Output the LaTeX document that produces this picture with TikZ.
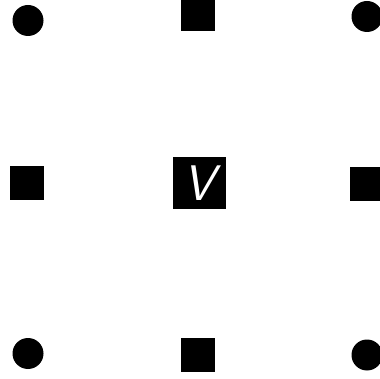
\documentclass[tikz,border=0pt]{standalone}
\begin{document}
\begin{tikzpicture}[x=1pt,y=-1pt,
  dot/.style={circle,fill=black,inner sep=0pt,minimum size=31pt},
  sq/.style={rectangle,fill=black,inner sep=0pt,minimum size=34pt},
  vbox/.style={rectangle,fill=black,inner sep=0pt,minimum width=53pt,minimum height=52pt,text=white,font=\fontsize{50}{50}\selectfont\sffamily\itshape}]
\useasboundingbox (0,0) rectangle (380,379);
\node[dot] (tl) at (28,20.5) {};
\node[dot] (tr) at (367,16.5) {};
\node[dot] (bl) at (28,353.5) {};
\node[dot] (br) at (367,355) {};
\node[sq] (t) at (197.5,14.5) {};
\node[sq] (l) at (27,183.5) {};
\node[sq] (r) at (367,184) {};
\node[sq] (b) at (197.5,354.5) {};
\node[vbox] (v) at (199.5,183) {V};
\end{tikzpicture}
\end{document}
